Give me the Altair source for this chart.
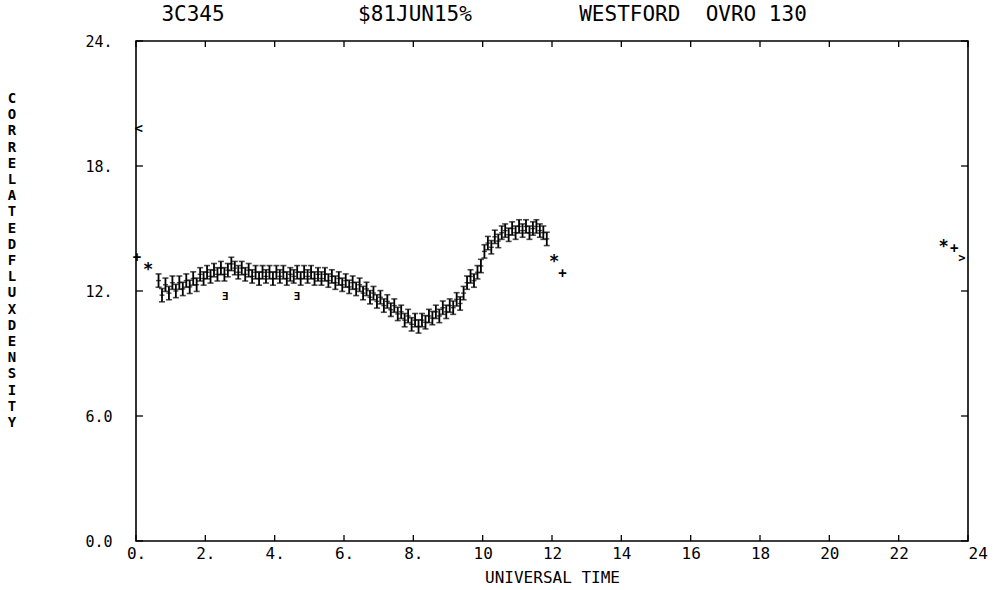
import altair as alt
import pandas as pd

# ---- data ----
t_main = [0.65, 0.75, 0.85, 0.95, 1.05, 1.15, 1.25, 1.35, 1.45, 1.55, 1.65, 1.75, 1.85, 1.95,
          2.05, 2.15, 2.25, 2.35, 2.45, 2.55, 2.65, 2.75, 2.85, 2.95, 3.05, 3.15, 3.25, 3.35,
          3.45, 3.55, 3.65, 3.75, 3.85, 3.95, 4.05, 4.15, 4.25, 4.35, 4.45, 4.55, 4.65, 4.75,
          4.85, 4.95, 5.05, 5.15, 5.25, 5.35, 5.45, 5.55, 5.65, 5.75, 5.85, 5.95, 6.05, 6.15,
          6.25, 6.35, 6.45, 6.55, 6.65, 6.75, 6.85, 6.95, 7.05, 7.15, 7.25, 7.35, 7.45, 7.55,
          7.65, 7.75, 7.85, 7.95, 8.05, 8.15, 8.25, 8.35, 8.45, 8.55, 8.65, 8.75, 8.85, 8.95,
          9.05, 9.15, 9.25, 9.35, 9.45, 9.55, 9.65, 9.75, 9.85, 9.95, 10.05, 10.15, 10.25,
          10.35, 10.45, 10.55, 10.65, 10.75, 10.85, 10.95, 11.05, 11.15, 11.25, 11.35, 11.45,
          11.55, 11.65, 11.75, 11.85]
v_main = [12.5, 11.8, 12.3, 11.9, 12.4, 12.0, 12.4, 12.1, 12.5, 12.2, 12.6, 12.3, 12.8, 12.6,
          12.9, 12.7, 13.0, 12.8, 13.1, 12.8, 13.0, 13.3, 13.1, 12.9, 13.1, 12.8, 13.0, 12.7,
          12.9, 12.6, 12.9, 12.7, 12.9, 12.6, 12.9, 12.7, 12.9, 12.6, 12.8, 12.7, 12.9, 12.6,
          12.9, 12.7, 12.9, 12.6, 12.8, 12.6, 12.8, 12.5, 12.7, 12.4, 12.6, 12.3, 12.5, 12.2,
          12.4, 12.1, 12.3, 11.9, 12.1, 11.7, 11.9, 11.5, 11.7, 11.3, 11.5, 11.1, 11.3, 10.9,
          11.0, 10.6, 10.8, 10.4, 10.6, 10.3, 10.6, 10.5, 10.8, 10.7, 11.0, 10.8, 11.2, 11.0,
          11.3, 11.2, 11.6, 11.4, 11.9, 12.4, 12.7, 12.5, 12.9, 13.2, 13.9, 14.3, 14.1,
          14.6, 14.4, 14.8, 14.9, 14.7, 15.0, 14.8, 15.1, 14.9, 15.1, 14.8, 15.0,
          15.1, 14.9, 14.8, 14.5]

star_t = [0.35, 12.06, 23.3]
star_v = [13.0, 13.4, 14.1]
plus_t = [0.03, 12.3, 23.6]
plus_v = [13.6, 12.8, 14.0]
e_t = [2.57, 4.64]
e_v = [11.7, 11.7]
lt_t = [0.08]
lt_v = [19.8]
gt_t = [23.82]
gt_v = [13.6]

x_ticks = [0, 2, 4, 6, 8, 10, 12, 14, 16, 18, 20, 22, 24]
y_ticks = [0, 6, 12, 18, 24]

NBSP = "\u00a0"
ylabel_letters = [c if c != " " else NBSP for c in "CORRELATED FLUX DENSITY"]
titles = ["3C345", "$81JUN15%", "WESTFORD" + NBSP + NBSP + "OVRO 130"]

W, H = 832, 500
FONT = "DejaVu Sans Mono"
ERR = 0.32

main_df = pd.DataFrame({"t": t_main, "v": v_main})
xs = alt.Scale(domain=[0, 24], nice=False, zero=False)
ys = alt.Scale(domain=[0, 24], nice=False, zero=False)

x_label_expr = "datum.value < 10 ? '\u00a0' + datum.value + '.' : '' + datum.value"
x_axis = alt.Axis(values=x_ticks, grid=False, domain=False, ticks=False,
                  labelExpr=x_label_expr, labelFlush=False,
                  labelAlign=alt.ConditionalAxisLabelAlign(
                      condition={"test": "datum.value == 24", "value": "left"},
                      value="center"),
                  labelFont=FONT, labelFontSize=16, labelPadding=4, labelColor="black",
                  labelOverlap=False,
                  title="UNIVERSAL TIME", titleFont=FONT, titleFontSize=16,
                  titleFontWeight="normal", titlePadding=8, titleColor="black")
y_axis = alt.Axis(values=y_ticks, grid=False, domain=False, ticks=False,
                  labelExpr="datum.value < 10 ? format(datum.value, '.1f') : datum.value + '.'",
                  labelFont=FONT, labelFontSize=15, labelPadding=24, labelColor="black",
                  labelFlush=False, labelOverlap=False, title=None)

base = alt.Chart(main_df)
bars = base.transform_calculate(lo=f"datum.v - {ERR}", hi=f"datum.v + {ERR}").mark_rule(
    color="black", strokeWidth=1.8).encode(
    x=alt.X("t:Q", scale=xs, axis=x_axis),
    y=alt.Y("lo:Q", scale=ys, axis=y_axis),
    y2="hi:Q")
caps_lo = base.transform_calculate(lo=f"datum.v - {ERR}").mark_tick(
    orient="horizontal", size=6, thickness=1.6, color="black").encode(
    x=alt.X("t:Q", scale=xs), y=alt.Y("lo:Q", scale=ys))
caps_hi = base.transform_calculate(hi=f"datum.v + {ERR}").mark_tick(
    orient="horizontal", size=6, thickness=1.6, color="black").encode(
    x=alt.X("t:Q", scale=xs), y=alt.Y("hi:Q", scale=ys))
mids = base.mark_tick(orient="horizontal", size=5, thickness=1.4, color="black").encode(
    x=alt.X("t:Q", scale=xs), y=alt.Y("v:Q", scale=ys))


def glyph(ts, vs, ch, size):
    return alt.Chart(pd.DataFrame({"t": ts, "v": vs})).mark_text(
        text=ch, font=FONT, fontSize=size, fontWeight="bold", color="black",
        baseline="middle", align="center").encode(
        x=alt.X("t:Q", scale=xs), y=alt.Y("v:Q", scale=ys))


stars = glyph(star_t, star_v, "*", 17)
pluses = glyph(plus_t, plus_v, "+", 14)
es = glyph(e_t, e_v, "\u018e", 11)
lts = glyph(lt_t, lt_v, "<", 14)
gts = glyph(gt_t, gt_v, ">", 12)

xt = alt.Chart(pd.DataFrame({"t": x_ticks}))
bot_ticks = xt.mark_rule(color="black", strokeWidth=1.3).encode(
    x=alt.X("t:Q", scale=xs), y=alt.value(H), y2=alt.value(H - 6))
top_ticks = xt.mark_rule(color="black", strokeWidth=1.3).encode(
    x=alt.X("t:Q", scale=xs), y=alt.value(0), y2=alt.value(6))
yt = alt.Chart(pd.DataFrame({"v": y_ticks}))
left_ticks = yt.mark_rule(color="black", strokeWidth=1.3).encode(
    y=alt.Y("v:Q", scale=ys), x=alt.value(0), x2=alt.value(7))
right_ticks = yt.mark_rule(color="black", strokeWidth=1.3).encode(
    y=alt.Y("v:Q", scale=ys), x=alt.value(W), x2=alt.value(W - 7))

title_pos = [57, 279, 557]
title_layers = [
    alt.Chart(pd.DataFrame({"s": [titles[i]]})).mark_text(
        font=FONT, fontSize=21, color="black", align="center", baseline="middle").encode(
        text="s:N", x=alt.value(title_pos[i]), y=alt.value(-26))
    for i in range(3)
]

ylabel = alt.Chart(pd.DataFrame({"s": ["y"]})).mark_text(
    text=ylabel_letters, font=FONT, fontSize=14, fontWeight="bold", lineHeight=16.2,
    color="black", align="center", baseline="top").encode(
    x=alt.value(-124), y=alt.value(51))

chart = alt.layer(
    bars, caps_lo, caps_hi, mids, stars, pluses, es, lts, gts,
    bot_ticks, top_ticks, left_ticks, right_ticks, *title_layers, ylabel
).properties(
    width=W, height=H,
    autosize=alt.AutoSizeParams(type="none"),
    padding={"left": 136, "top": 41, "right": 27, "bottom": 49},
    background="white",
).configure_view(stroke="black", strokeWidth=1.6)

chart.save("out.html", embed_options={"renderer": "svg", "actions": False})
